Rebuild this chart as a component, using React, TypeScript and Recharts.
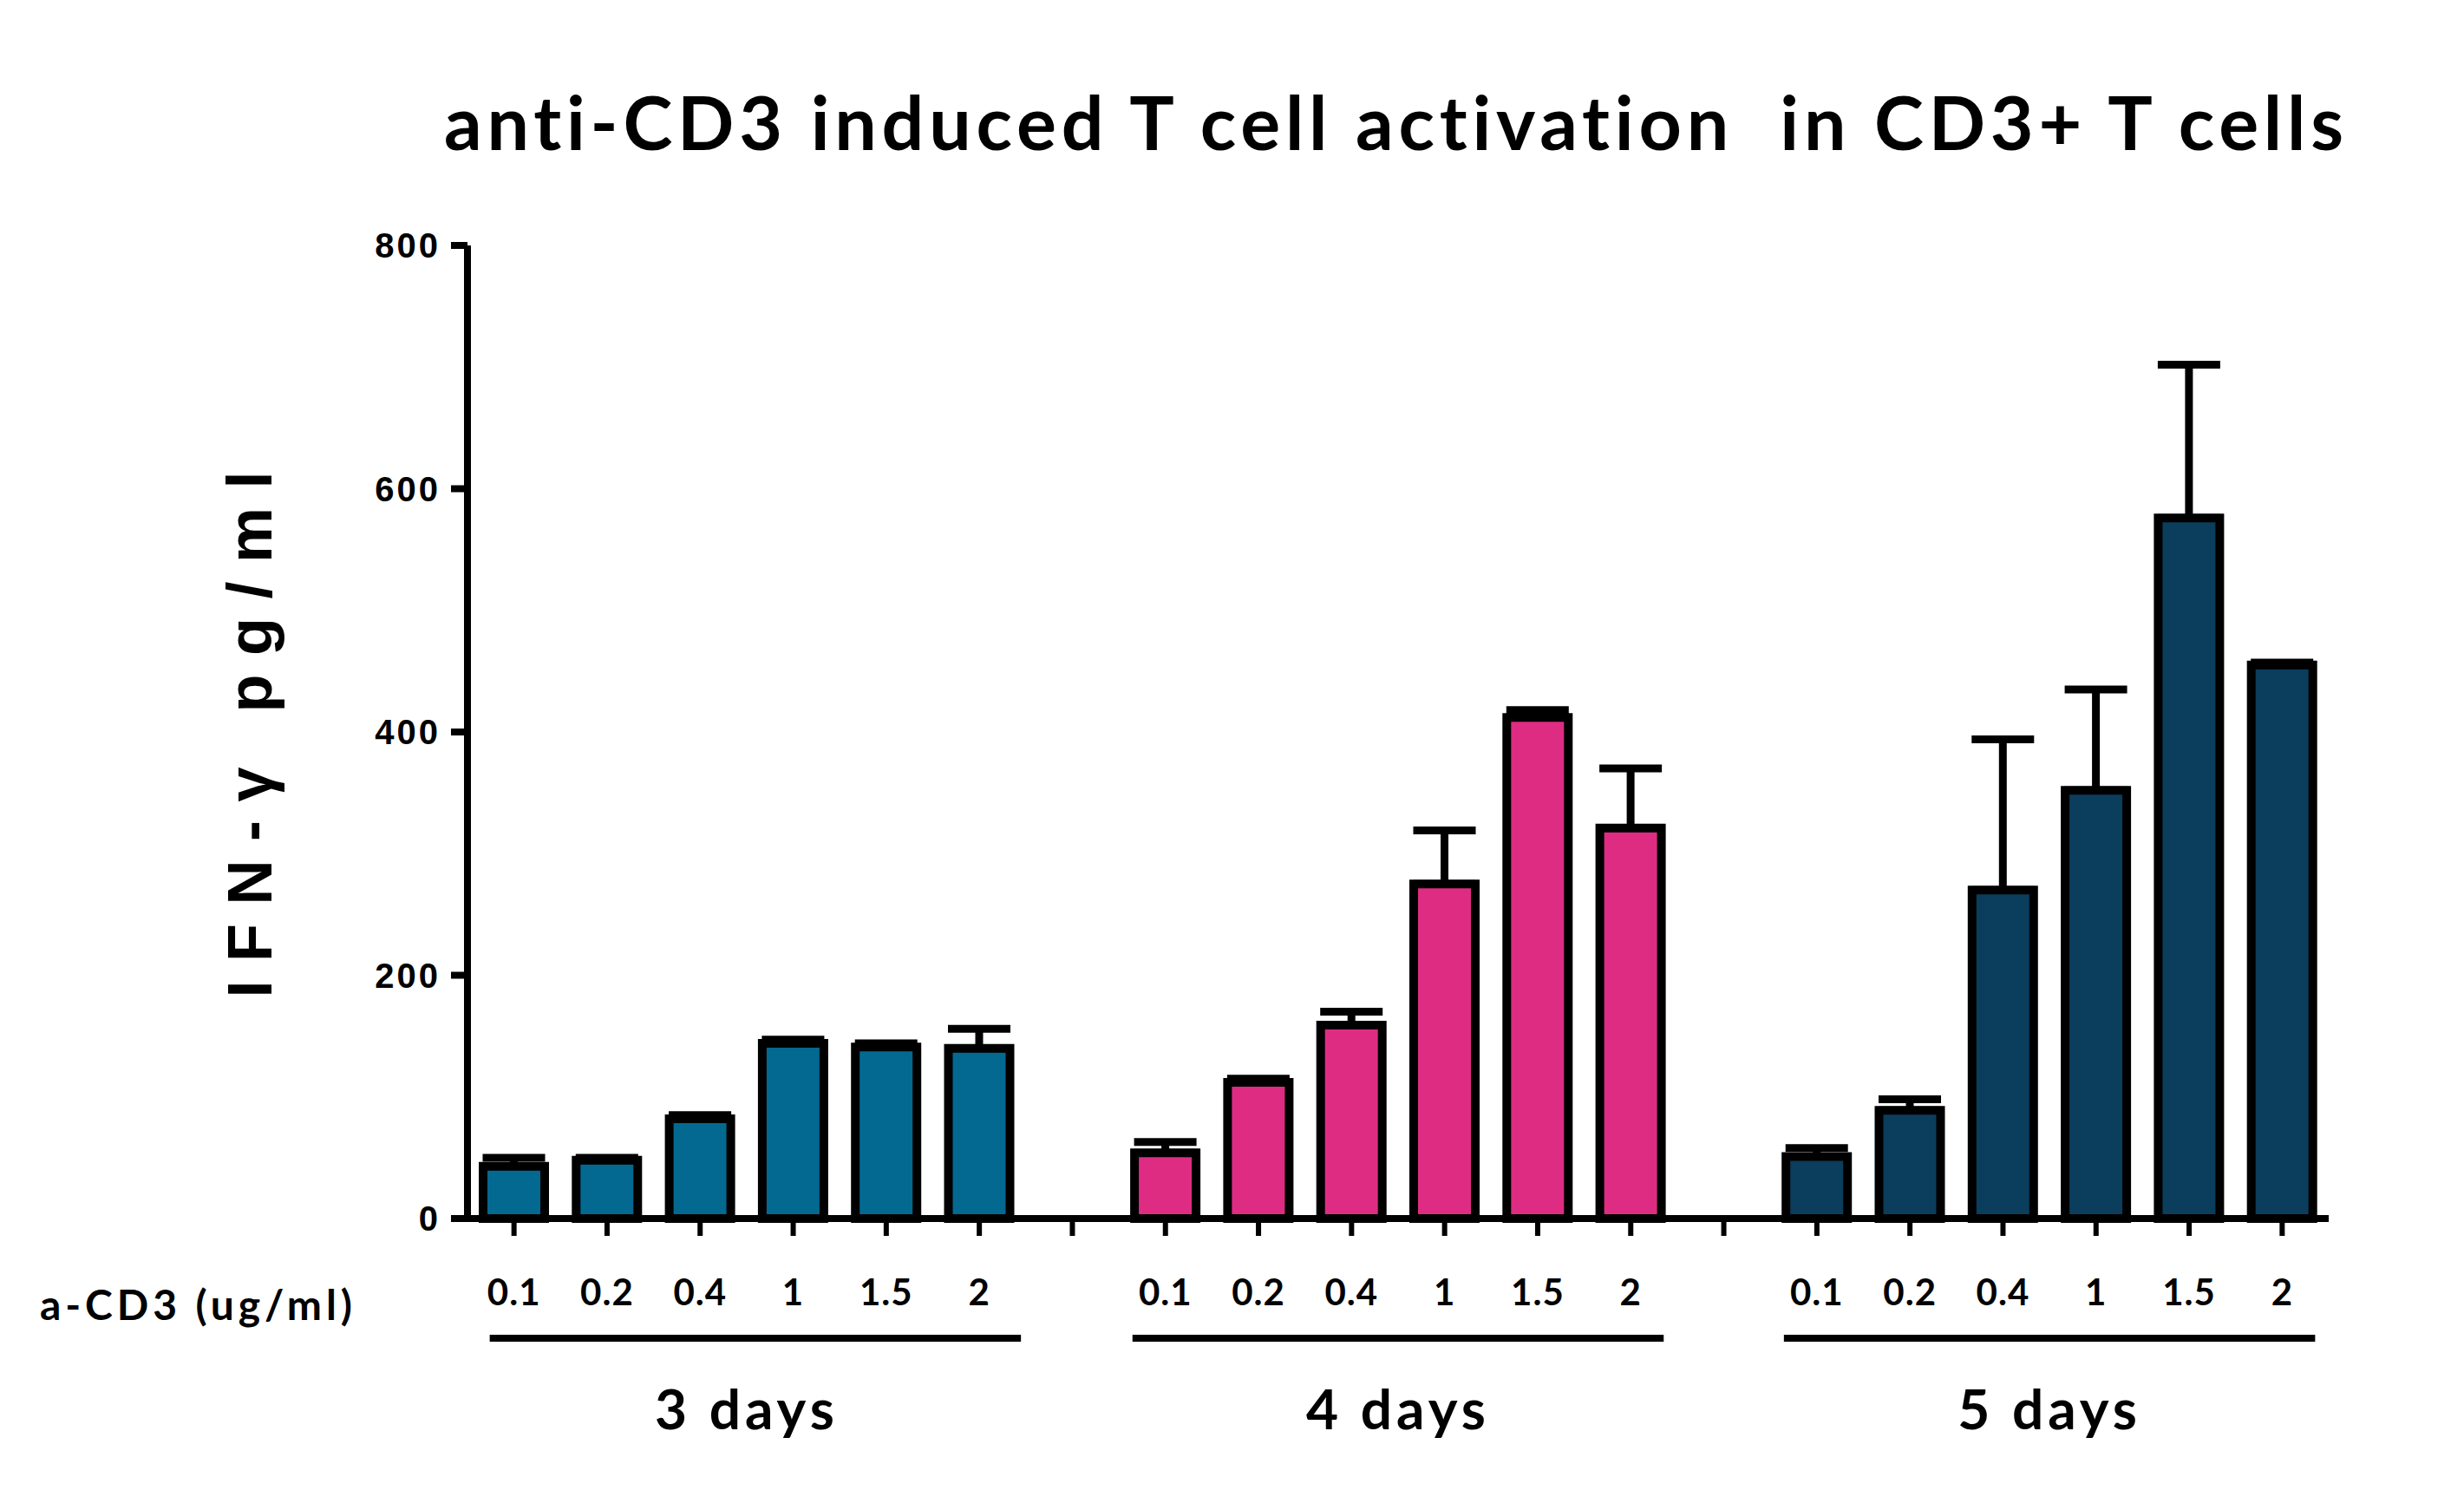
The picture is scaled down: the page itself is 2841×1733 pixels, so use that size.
import React from "react";
import { BarChart, Bar, XAxis, YAxis, ErrorBar, Cell } from "recharts";

const doses = ["0.1", "0.2", "0.4", "1", "1.5", "2"];
const groups = ["3 days", "4 days", "5 days"];
const colors = ["#036990", "#DE2C83", "#0B3D5C"];

const day3 = [43, 48, 82, 144, 141, 140];
const err3 = [7, 2, 3, 3, 3, 16];
const day4 = [54, 112, 159, 275, 412, 321];
const err4 = [9, 3, 11, 44, 6, 49];
const day5 = [51, 89, 270, 352, 576, 455];
const err5 = [7, 9, 124, 83, 126, 2];

const yTicks = [0, 200, 400, 600, 800];

const W = 2841;
const H = 1733;
const PLOT_L = 539;
const PLOT_R = 2685;
const PLOT_T = 283;
const PLOT_B = 1405;
const BAND = (PLOT_R - PLOT_L) / 20;

const values = [day3, day4, day5];
const errors = [err3, err4, err5];

type Row = {
  key: string;
  dose?: string;
  doseIdx?: number;
  group?: number;
  value?: number | null;
  err?: number[];
};

const rows: Row[] = [];
groups.forEach((g, gi) => {
  doses.forEach((d, di) => {
    rows.push({
      key: `${g}|${d}`,
      dose: d,
      doseIdx: di,
      group: gi,
      value: values[gi][di],
      err: [0, errors[gi][di]],
    });
  });
  if (gi < groups.length - 1) rows.push({ key: `gap${gi}`, value: null });
});

const byKey: Record<string, Row> = {};
rows.forEach((r) => (byKey[r.key] = r));

// underline under each group, a bit offset like the original
const lineLeft = [-28, -38, -38];
const lineRight = [48, 38, 38];

function XTick(props: any) {
  const { x, payload } = props;
  const row = byKey[payload.value];
  if (!row || row.dose === undefined) return null;
  const gi = row.group as number;
  return (
    <g>
      <text
        x={x}
        y={PLOT_B + 100}
        textAnchor="middle"
        fontFamily="Lato"
        fontWeight={700}
        fontSize={42}
        letterSpacing={1}
        fill="#000"
      >
        {row.dose}
      </text>
      {row.doseIdx === 0 && (
        <g>
          <line
            x1={x + lineLeft[gi]}
            x2={x + 5 * BAND + lineRight[gi]}
            y1={PLOT_B + 138}
            y2={PLOT_B + 138}
            stroke="#000"
            strokeWidth={8}
          />
          <text
            x={x + 2.5 * BAND}
            y={PLOT_B + 243}
            textAnchor="middle"
            fontFamily="Lato"
            fontWeight={700}
            fontSize={64}
            letterSpacing={5}
            fill="#000"
          >
            {groups[gi]}
          </text>
        </g>
      )}
    </g>
  );
}

export default function App() {
  return (
    <div
      style={{
        position: "absolute",
        left: 0,
        top: 0,
        width: W,
        height: H,
        background: "#fff",
      }}
    >
      <BarChart
        width={W}
        height={H}
        data={rows}
        margin={{ top: PLOT_T, right: W - PLOT_R, left: PLOT_L - 100, bottom: H - PLOT_B - 60 }}
      >
        <XAxis
          dataKey="key"
          type="category"
          interval={0}
          height={60}
          axisLine={{ stroke: "#000", strokeWidth: 8 }}
          tickLine={{ stroke: "#000", strokeWidth: 6 }}
          tickSize={20}
          tick={<XTick />}
        />
        <YAxis
          type="number"
          domain={[0, 800]}
          ticks={yTicks}
          width={100}
          axisLine={{ stroke: "#000", strokeWidth: 8 }}
          tickLine={{ stroke: "#000", strokeWidth: 8 }}
          tickSize={19}
          tickMargin={12}
          tick={{
            fill: "#000",
            fontSize: 40,
            fontWeight: 700,
            fontFamily: "Liberation Sans",
            letterSpacing: 3,
          }}
        />
        <Bar
          dataKey="value"
          barSize={71}
          stroke="#000"
          strokeWidth={10}
          isAnimationActive={false}
        >
          {rows.map((r, i) => (
            <Cell key={i} fill={r.group !== undefined ? colors[r.group] : "none"} />
          ))}
          <ErrorBar
            dataKey="err"
            width={36}
            stroke="#000"
            strokeWidth={9}
            direction="y"
          />
        </Bar>
      </BarChart>
      <svg
        width={W}
        height={H}
        style={{ position: "absolute", left: 0, top: 0, pointerEvents: "none" }}
      >
        <text
          x={512}
          y={173}
          fontFamily="Lato"
          fontWeight={700}
          fontSize={86}
          textLength={2190}
          lengthAdjust="spacing"
          style={{ whiteSpace: "pre", fontVariantLigatures: "none" }}
          fill="#000"
        >
          anti-CD3 induced T cell activation  in CD3+ T cells
        </text>
        <text
          transform="rotate(-90)"
          x={-847}
          y={313}
          textAnchor="middle"
          fontFamily="Liberation Sans"
          fontWeight={700}
          fontSize={72}
          textLength={607}
          lengthAdjust="spacing"
          fill="#000"
        >
          IFN-γ pg/ml
        </text>
        <text
          x={46}
          y={1522}
          fontFamily="Lato"
          fontWeight={700}
          fontSize={48}
          textLength={360}
          lengthAdjust="spacing"
          fill="#000"
        >
          a-CD3 (ug/ml)
        </text>
      </svg>
    </div>
  );
}
